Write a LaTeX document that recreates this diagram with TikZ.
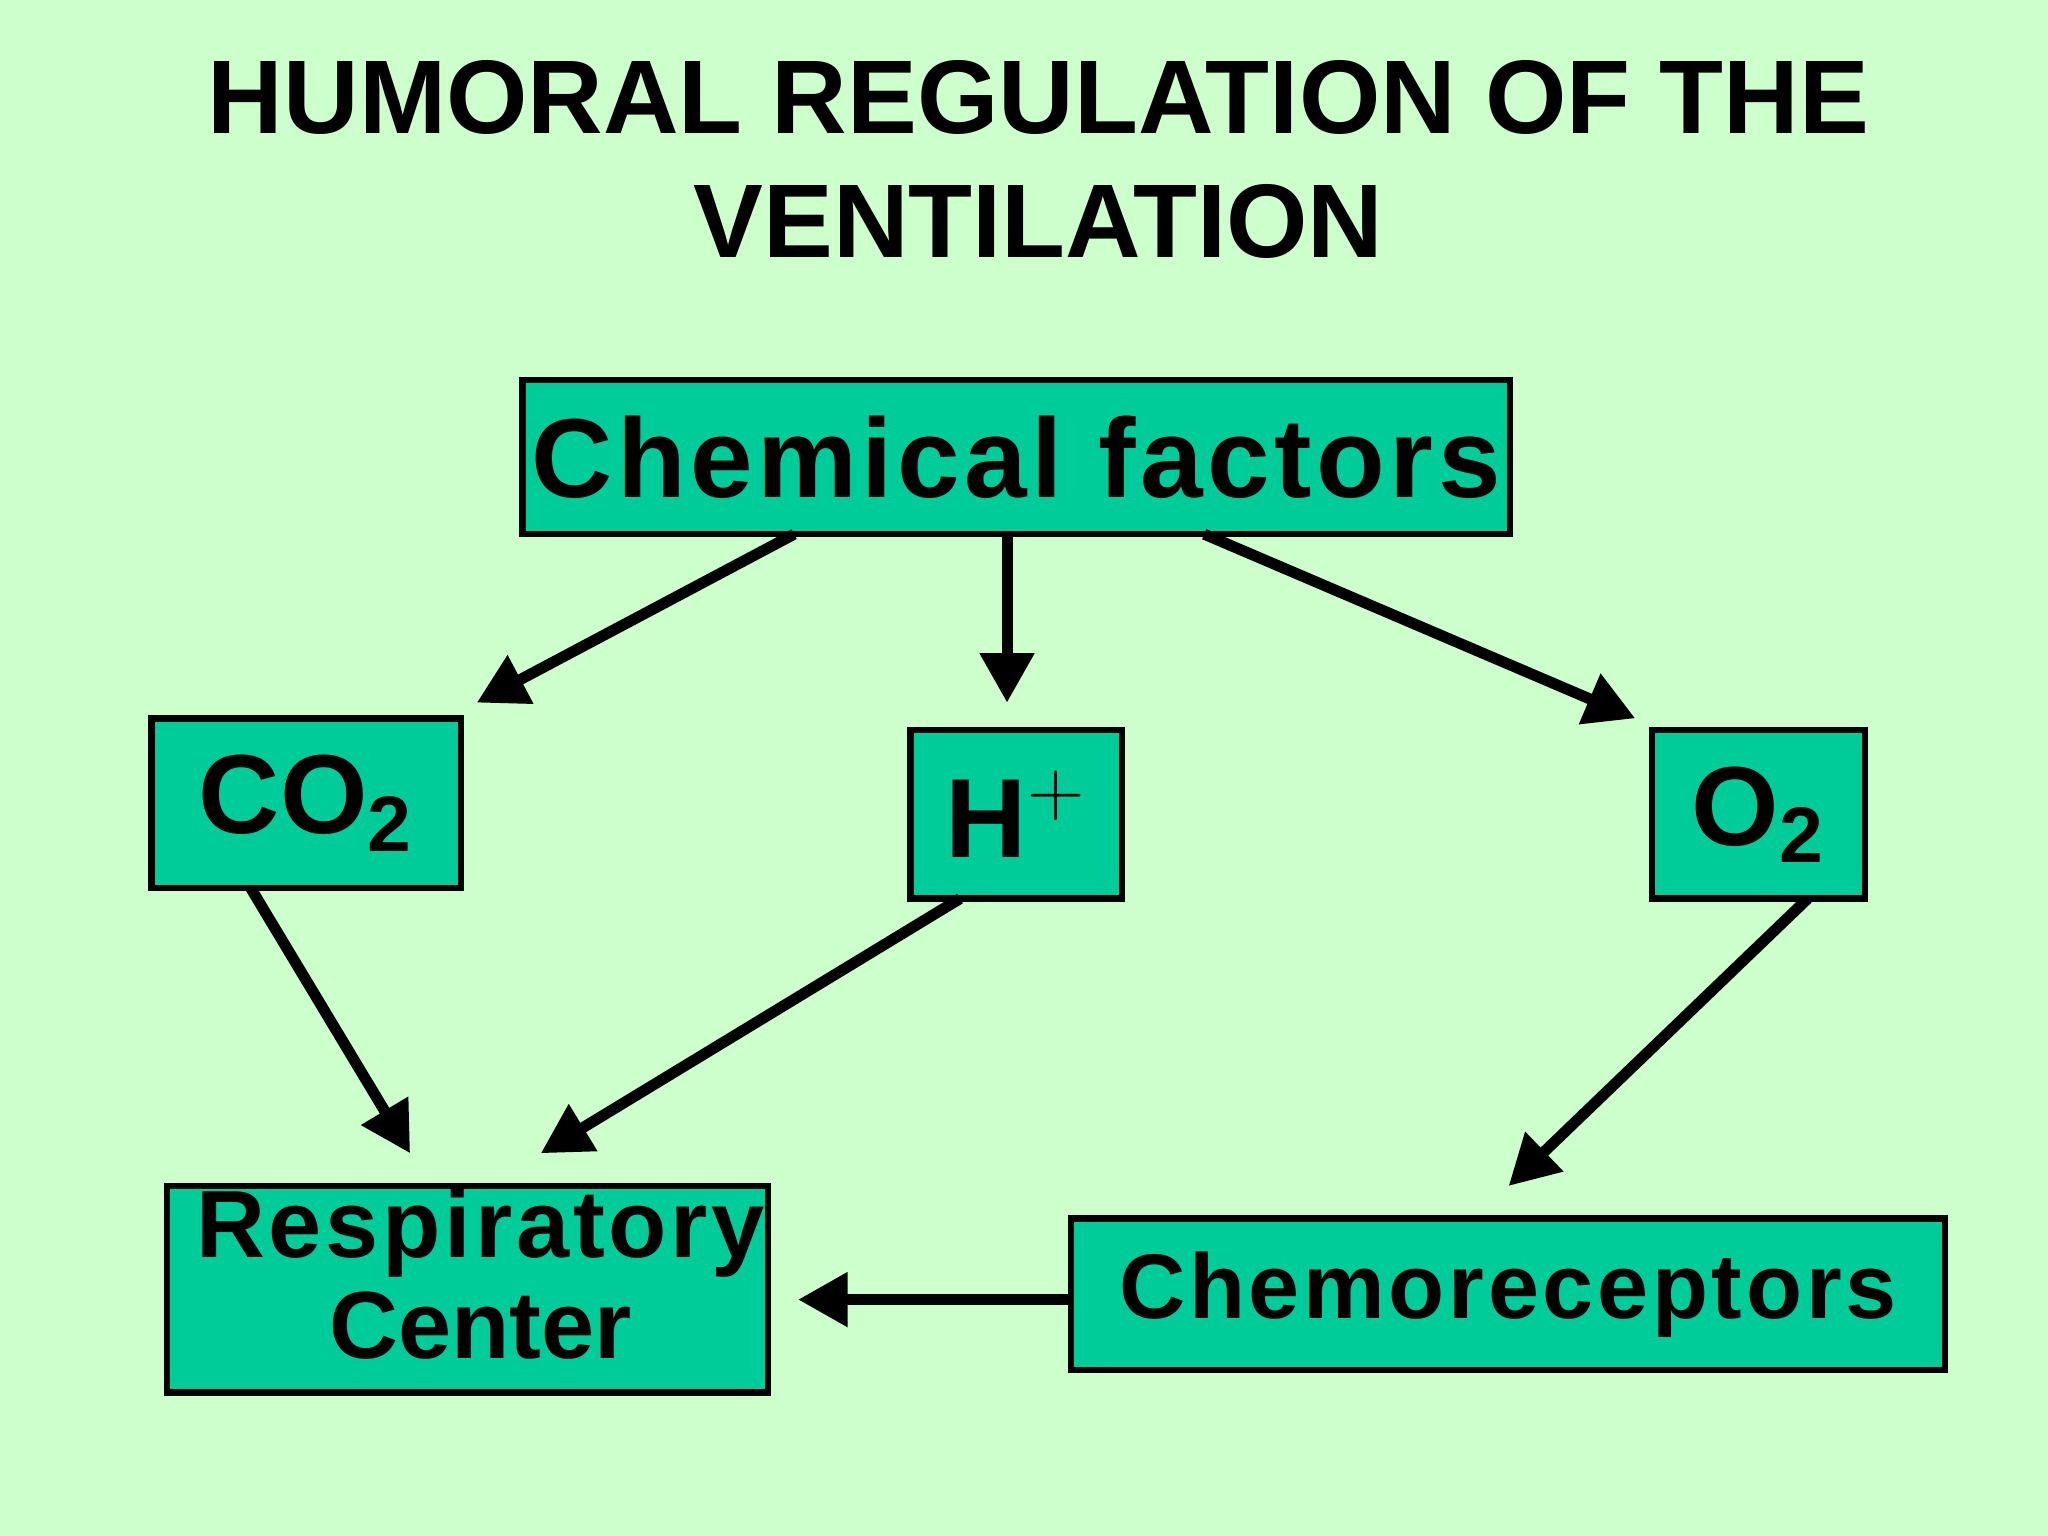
\documentclass[tikz,border=0pt]{standalone}
\usepackage{fontspec}
\setmainfont{Liberation Sans}
\usetikzlibrary{arrows.meta}
\definecolor{bg}{HTML}{CCFFCC}
\definecolor{boxc}{HTML}{00CC99}
\tikzset{
 box/.style={draw=black, line width=1.4pt, fill=boxc, inner sep=0pt},
 arr/.style={line width=2.4pt, -{Triangle[length=0.38cm,width=0.4cm]}},
}
\begin{document}
\begin{tikzpicture}
\fill[bg] (0,0) rectangle (15.68,-11.76);
\node[font=\bfseries\fontsize{22.8}{27}\selectfont, align=center] (title) at (7.95,-1.22) {HUMORAL REGULATION OF THE\\VENTILATION};
\node[box, minimum width=7.56cm, minimum height=1.18cm, font=\bfseries\fontsize{24.5}{28}\selectfont] (cf) at (7.78,-3.50) {\addfontfeature{LetterSpace=4}Chemical factors};
\node[box, minimum width=2.37cm, minimum height=1.30cm, font=\bfseries\fontsize{24.5}{28}\selectfont] (co2) at (2.345,-6.15) {CO$_{\mathbf 2}$};
\node[box, minimum width=1.62cm, minimum height=1.29cm, font=\bfseries\fontsize{24.5}{28}\selectfont] (h) at (7.78,-6.235) {H$^{\mathbf +}$};
\node[box, minimum width=1.63cm, minimum height=1.29cm, font=\bfseries\fontsize{24.5}{28}\selectfont] (o2) at (13.465,-6.235) {O$_{\mathbf 2}$};
\node[box, minimum width=4.60cm, minimum height=1.58cm] (rc) at (3.58,-9.87) {};
\node[font=\bfseries\fontsize{20.8}{22}\selectfont, align=center] (rctext) at (3.68,-9.75) {\addfontfeature{LetterSpace=4}Respiratory\\Center};
\node[box, minimum width=6.69cm, minimum height=1.16cm, font=\bfseries\fontsize{20}{24}\selectfont] (ch) at (11.545,-9.91) {\addfontfeature{LetterSpace=4}Chemoreceptors};
\coordinate (a1s) at (6.08,-4.09); \coordinate (a1e) at (3.65,-5.38);
\coordinate (a2s) at (7.71,-4.09); \coordinate (a2e) at (7.71,-5.38);
\coordinate (a3s) at (9.22,-4.09); \coordinate (a3e) at (12.52,-5.50);
\coordinate (a4s) at (1.92,-6.80); \coordinate (a4e) at (3.14,-8.83);
\coordinate (a5s) at (7.35,-6.88); \coordinate (a5e) at (4.14,-8.83);
\coordinate (a6s) at (13.84,-6.88); \coordinate (a6e) at (11.55,-9.08);
\coordinate (a7s) at (8.20,-9.95); \coordinate (a7e) at (6.11,-9.95);
\draw[arr] (a1s) -- (a1e);
\draw[arr] (a2s) -- (a2e);
\draw[arr] (a3s) -- (a3e);
\draw[arr] (a4s) -- (a4e);
\draw[arr] (a5s) -- (a5e);
\draw[arr] (a6s) -- (a6e);
\draw[arr] (a7s) -- (a7e);
\end{tikzpicture}
\end{document}
